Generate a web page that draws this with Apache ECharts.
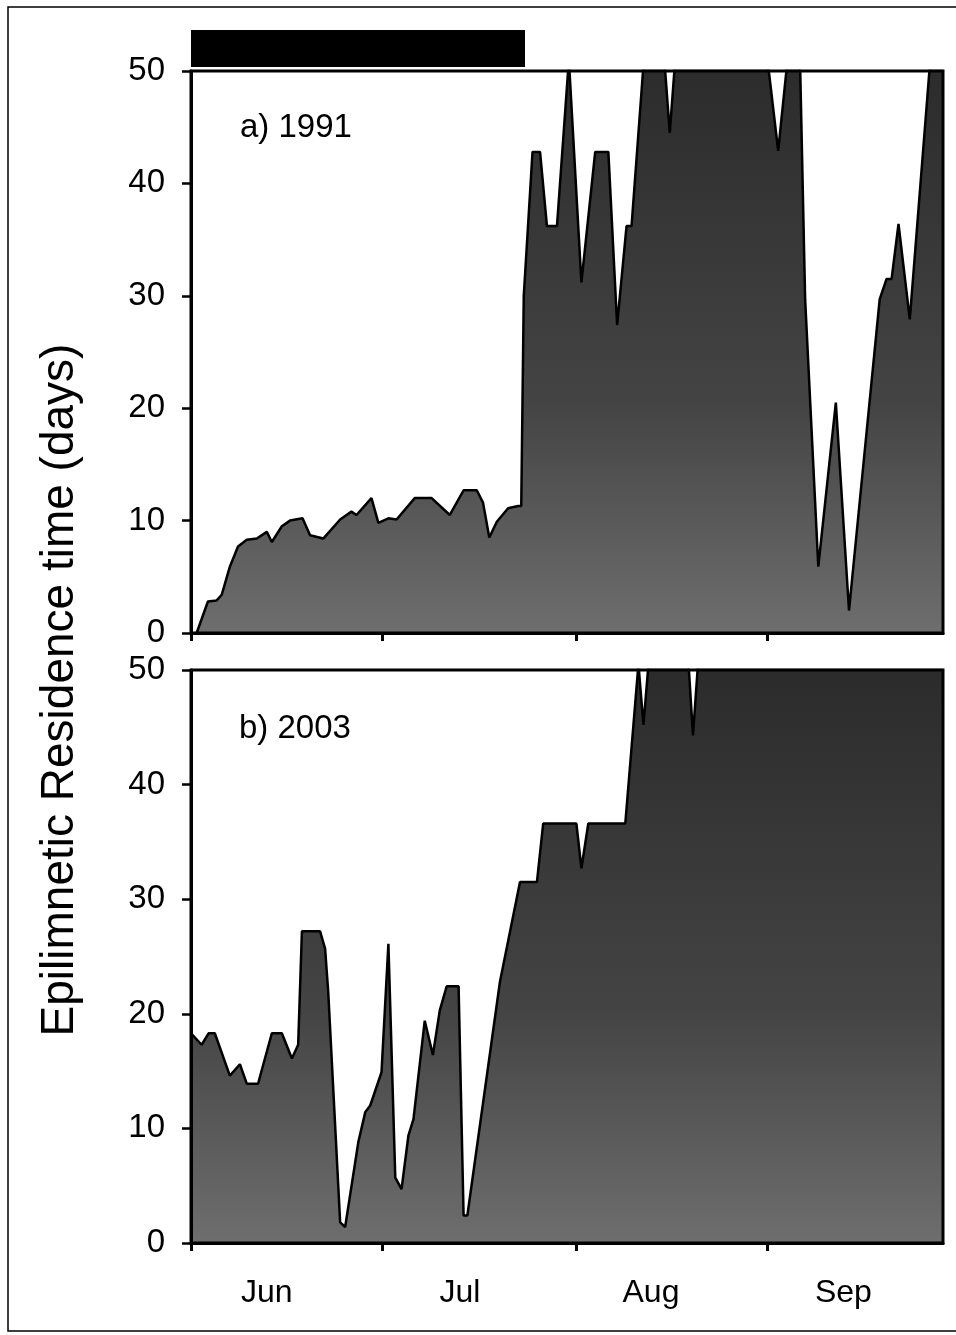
<!DOCTYPE html>
<html>
<head>
<meta charset="utf-8">
<script src="https://cdn.jsdelivr.net/npm/echarts@6/dist/echarts.min.js"></script>
<style>
html,body{margin:0;padding:0;background:#fff;}
#chart{width:956px;height:1335px;}
</style>
</head>
<body>
<div id="chart"></div>
<script>
// ---- Data (x = days since 1 June; values > 50 are off-scale and clipped) ----
const monthTickDays = [0, 30.5, 61.4, 91.9];
const monthLabelDays = [12.1, 42.9, 73.4, 104.1];
const monthNames = ['Jun', 'Jul', 'Aug', 'Sep'];

const daysA = [0.9,2.7,4.1,4.9,6.2,7.5,8.9,10.5,12.1,12.9,14.5,15.8,17.8,19.0,21.1,23.8,25.6,26.4,28.8,29.9,31.5,32.8,35.7,38.4,41.3,43.5,45.6,46.6,47.6,48.8,50.6,52.2,52.7,53.1,54.5,55.7,56.8,58.4,60.3,62.3,64.5,66.6,68.0,69.5,70.3,72.2,75.6,76.4,77.2,92.1,93.7,95.1,97.2,98.0,100.1,102.9,105.0,109.9,111.0,111.8,112.9,114.7,117.9,120];
const valuesA = [0,2.8,2.9,3.4,5.9,7.7,8.3,8.4,9.0,8.1,9.5,10.0,10.2,8.7,8.4,10.1,10.8,10.5,12.0,9.8,10.2,10.1,12.0,12.0,10.5,12.7,12.7,11.6,8.5,9.9,11.1,11.3,11.3,30,42.8,42.8,36.2,36.2,51,31.2,42.8,42.8,27.4,36.2,36.2,50.5,50.5,44.5,50.5,50.5,42.9,50.5,50.5,29.7,5.9,20.5,2.0,29.7,31.5,31.5,36.4,27.9,50.5,50.5];

const daysB = [0,1.7,2.8,3.8,6.2,7.8,8.9,10.7,12.9,14.5,16.1,17.1,17.7,20.6,21.4,21.9,23.8,24.6,26.7,27.8,28.6,30.4,31.5,32.6,33.6,34.7,35.5,37.3,38.6,39.7,40.8,42.7,43.5,44.1,49.3,52.5,55.2,56.2,61.5,62.3,63.4,69.3,71.4,72.2,73.0,79.4,80.1,80.9,120];
const valuesB = [18.3,17.3,18.3,18.3,14.6,15.6,13.9,13.9,18.3,18.3,16.1,17.3,27.2,27.2,25.7,21.9,1.8,1.4,8.8,11.4,12.0,14.9,26.1,5.7,4.7,9.4,10.8,19.4,16.4,20.3,22.4,22.4,2.4,2.4,22.8,31.5,31.5,36.6,36.6,32.7,36.6,36.6,50.5,45.2,50.5,50.5,44.3,50.5,50.5];

const periodBar = [53.3]; // black bar above panel a: from day 0 to this day

const panelLabels = ['a) 1991', 'b) 2003'];
const yTitle = 'Epilimnetic Residence time (days)';

// ---- Build ----
const FONT = 'Liberation Sans';
const pairs = (xs, ys) => xs.map((x, i) => [x, ys[i]]);

const fill = new echarts.graphic.LinearGradient(0, 0, 0, 1, [
  {offset: 0, color: '#2b2b2b'},
  {offset: 0.6, color: '#444444'},
  {offset: 1, color: '#6e6e6e'}
]);

function xAx(gi, showLabels) {
  return {
    type: 'value', gridIndex: gi, min: 0, max: 120, z: 6,
    axisLine: {show: true, lineStyle: {color: '#000', width: 3}},
    axisTick: {show: true, inside: false, length: 8, customValues: monthTickDays,
      lineStyle: {color: '#000', width: 3}},
    axisLabel: {show: showLabels, customValues: monthLabelDays, margin: 34,
      fontFamily: FONT, fontSize: 32, color: '#000',
      formatter: function (v) {
        let best = 0;
        monthLabelDays.forEach((d, i) => { if (Math.abs(d - v) < Math.abs(monthLabelDays[best] - v)) best = i; });
        return monthNames[best];
      }},
    splitLine: {show: false}
  };
}
function yAx(gi, pad) {
  return {
    type: 'value', gridIndex: gi, min: 0, max: 50, interval: 10, z: 6,
    axisLine: {show: true, lineStyle: {color: '#000', width: 3}},
    axisTick: {show: true, inside: false, length: 9, lineStyle: {color: '#000', width: 2.5}},
    axisLabel: {fontFamily: FONT, fontSize: 33, color: '#000', margin: 26,
      padding: [pad, 0, 0, 0]},
    splitLine: {show: false}
  };
}

const chart = echarts.init(document.getElementById('chart'), null, {renderer: 'canvas'});
chart.setOption({
  animation: false,
  backgroundColor: '#fff',
  grid: [
    {left: 191, right: 13, top: 71, height: 562, show: true, borderColor: '#000', borderWidth: 3, z: 5},
    {left: 191, right: 13, top: 670, height: 573, show: true, borderColor: '#000', borderWidth: 3, z: 5},
    {left: 191, right: 13, top: 30, height: 37}
  ],
  xAxis: [
    xAx(0, false),
    xAx(1, true),
    {type: 'value', gridIndex: 2, min: 0, max: 120, show: false}
  ],
  yAxis: [
    yAx(0, 12),
    yAx(1, 2),
    {type: 'category', gridIndex: 2, data: ['period'], show: false}
  ],
  series: [
    {type: 'line', xAxisIndex: 0, yAxisIndex: 0, data: pairs(daysA, valuesA),
      symbol: 'none', clip: true, z: 2,
      lineStyle: {color: '#000', width: 2.5}, areaStyle: {color: fill, opacity: 1}},
    {type: 'line', xAxisIndex: 1, yAxisIndex: 1, data: pairs(daysB, valuesB),
      symbol: 'none', clip: true, z: 2,
      lineStyle: {color: '#000', width: 2.5}, areaStyle: {color: fill, opacity: 1}},
    {type: 'bar', xAxisIndex: 2, yAxisIndex: 2, data: periodBar, barWidth: '100%',
      itemStyle: {color: '#000'}}
  ],
  graphic: [
    {type: 'polyline', silent: true, shape: {points: [[1000, 7], [8, 7], [8, 1331], [1000, 1331]]},
      style: {fill: null, stroke: '#000', lineWidth: 1.5}},
    {type: 'text', x: 60, y: 690, rotation: Math.PI / 2,
      style: {text: yTitle, font: '46px "Liberation Sans"', fill: '#000', textAlign: 'center', textVerticalAlign: 'middle'}},
    {type: 'text', x: 240, y: 128,
      style: {text: panelLabels[0], font: '33px "Liberation Sans"', fill: '#000', textAlign: 'left', textVerticalAlign: 'middle'}},
    {type: 'text', x: 239, y: 729,
      style: {text: panelLabels[1], font: '33px "Liberation Sans"', fill: '#000', textAlign: 'left', textVerticalAlign: 'middle'}}
  ]
});
</script>
</body>
</html>
